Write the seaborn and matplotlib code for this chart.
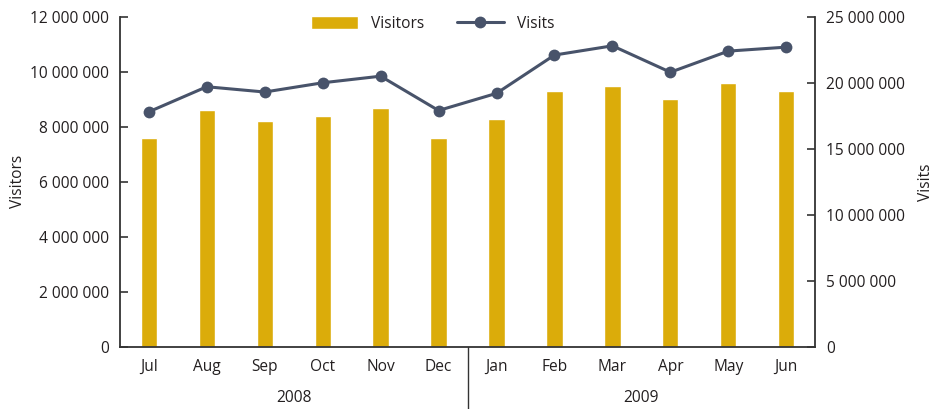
import matplotlib
matplotlib.use("Agg")
import matplotlib.pyplot as plt
import matplotlib.transforms as mtransforms
from matplotlib.ticker import FuncFormatter, MultipleLocator
import numpy as np
import pandas as pd
import seaborn as sns

# Monthly figures, July 2008 to June 2009
months = ["Jul", "Aug", "Sep", "Oct", "Nov", "Dec",
          "Jan", "Feb", "Mar", "Apr", "May", "Jun"]
years = ["2008", "2009"]
visitors = [7_600_000, 8_600_000, 8_200_000, 8_400_000, 8_700_000, 7_600_000,
            8_300_000, 9_300_000, 9_500_000, 9_000_000, 9_600_000, 9_300_000]
visits = [17_800_000, 19_700_000, 19_300_000, 20_000_000, 20_500_000, 17_900_000,
          19_200_000, 22_100_000, 22_800_000, 20_800_000, 22_400_000, 22_700_000]

df = pd.DataFrame({"month": months, "visitors": visitors, "visits": visits,
                   "pos": np.arange(len(months))})

sns.set_theme(style="white")
plt.rcParams["font.family"] = ["Open Sans", "DejaVu Sans"]

GOLD = "#DBAC0A"
SLATE = "#48536A"
TEXT = "#231F20"
AXIS = "#333333"
FS = 11.2

fig = plt.figure(figsize=(9.36, 4.09), dpi=100)
ax = fig.add_axes([0.128, 0.152, 0.743, 0.807])

sns.barplot(data=df, x="month", y="visitors", order=months, color=GOLD,
            width=0.28, saturation=1, label="Visitors", ax=ax)

ax2 = ax.twinx()
sns.lineplot(data=df, x="pos", y="visits", color=SLATE, linewidth=2.2,
             marker="o", markersize=8.5, markeredgewidth=0, label="Visits",
             ax=ax2)

fmt = FuncFormatter(lambda v, _: f"{v:,.0f}".replace(",", " "))

ax.set_xlim(-0.5, len(months) - 0.5)
ax.set_ylim(0, 12_000_000)
ax.yaxis.set_major_locator(MultipleLocator(2_000_000))
ax.yaxis.set_major_formatter(fmt)
ax2.set_ylim(0, 25_000_000)
ax2.yaxis.set_major_locator(MultipleLocator(5_000_000))
ax2.yaxis.set_major_formatter(fmt)
ax2.set_xlim(-0.5, len(months) - 0.5)

for a in (ax, ax2):
    a.spines["top"].set_visible(False)
    for sp in a.spines.values():
        sp.set_color(AXIS)
        sp.set_linewidth(1.3)
    a.grid(False)

ax.spines["right"].set_visible(False)
ax2.spines["left"].set_visible(False)
ax2.spines["bottom"].set_visible(False)

ax.tick_params(axis="y", direction="in", length=6, width=1.2, color=AXIS,
               labelsize=FS, labelcolor=TEXT, pad=8)
ax2.tick_params(axis="y", direction="in", length=6, width=1.2, color=AXIS,
                labelsize=FS, labelcolor=TEXT, pad=8)
ax.tick_params(axis="x", length=0, labelsize=FS, labelcolor=TEXT, pad=8.5)

ax.set_xlabel("")
ax.set_ylabel("Visitors", fontsize=FS, color=TEXT, labelpad=3)
ax2.set_ylabel("Visits", fontsize=FS, color=TEXT, labelpad=9)

# Year groups under the month labels, separated by a vertical rule
trans = mtransforms.blended_transform_factory(ax.transData, ax.transAxes)
ax.plot([5.5, 5.5], [0, -0.2], transform=trans, color=AXIS, linewidth=1.0,
        clip_on=False)
ax.text(2.5, -0.155, years[0], transform=trans, ha="center", va="center",
        fontsize=FS, color=TEXT)
ax.text(8.5, -0.155, years[1], transform=trans, ha="center", va="center",
        fontsize=FS, color=TEXT)

# Combined legend for both series
h1, l1 = ax.get_legend_handles_labels()
h2, l2 = ax2.get_legend_handles_labels()
for a in (ax, ax2):
    if a.get_legend() is not None:
        a.get_legend().remove()
ax2.legend(h1 + h2, l1 + l2, loc="center", bbox_to_anchor=(0.45, 0.979),
           ncol=2, frameon=False, fontsize=FS, handlelength=3.0,
           handleheight=0.95, handletextpad=0.85, columnspacing=2.1,
           labelcolor=TEXT)

fig.savefig("out.png", dpi=100)
